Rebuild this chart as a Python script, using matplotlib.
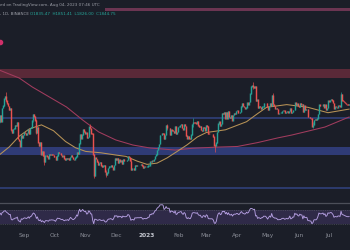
import numpy as np
import pandas as pd
import matplotlib
matplotlib.use("Agg")
import matplotlib.pyplot as plt
from matplotlib.lines import Line2D

# ---------------- data (ETH/USDT daily) ----------------
start_date = "2022-08-07"
first_open = 1690
closes_2022_08 = [1700, 1776, 1703, 1853, 1880, 1956, 1982, 1935, 1905, 1877, 1834, 1848, 1612,
                  1577, 1620, 1626, 1661, 1657, 1696, 1507, 1491, 1425, 1553, 1524, 1553]
closes_2022_09 = [1586, 1577, 1555, 1577, 1618, 1562, 1630, 1636, 1718, 1782, 1760, 1714, 1574,
                  1637, 1472, 1432, 1470, 1336, 1377, 1324, 1253, 1326, 1328, 1316, 1293, 1336,
                  1330, 1338, 1335, 1328]
closes_2022_10 = [1312, 1276, 1323, 1362, 1352, 1351, 1330, 1316, 1322, 1292, 1279, 1294, 1288,
                  1297, 1275, 1306, 1331, 1310, 1286, 1282, 1300, 1314, 1365, 1345, 1460, 1566,
                  1515, 1556, 1621, 1590, 1572]
closes_2022_11 = [1580, 1519, 1530, 1646, 1631, 1570, 1568, 1337, 1100, 1300, 1288, 1257, 1220,
                  1241, 1253, 1215, 1202, 1212, 1218, 1142, 1108, 1134, 1184, 1203, 1203, 1216,
                  1195, 1170, 1217, 1296]
closes_2022_12 = [1276, 1293, 1241, 1280, 1260, 1272, 1232, 1282, 1264, 1265, 1263, 1275, 1319,
                  1309, 1265, 1167, 1186, 1187, 1166, 1218, 1212, 1218, 1218, 1220, 1218, 1226,
                  1212, 1189, 1200, 1199, 1196]
closes_2023_01 = [1200, 1214, 1214, 1256, 1251, 1269, 1264, 1288, 1321, 1336, 1387, 1419, 1451,
                  1552, 1550, 1577, 1568, 1513, 1553, 1658, 1628, 1628, 1629, 1556, 1613, 1603,
                  1598, 1574, 1647, 1566, 1585]
closes_2023_02 = [1641, 1644, 1664, 1671, 1630, 1614, 1672, 1650, 1546, 1515, 1539, 1515, 1508,
                  1557, 1674, 1696, 1693, 1691, 1681, 1703, 1660, 1643, 1650, 1607, 1596, 1641,
                  1635, 1605]
closes_2023_03 = [1664, 1648, 1569, 1566, 1564, 1565, 1561, 1533, 1437, 1430, 1469, 1588, 1679,
                  1702, 1652, 1676, 1796, 1787, 1808, 1738, 1803, 1738, 1818, 1752, 1744, 1777,
                  1716, 1774, 1797, 1791, 1821]
closes_2023_04 = [1822, 1795, 1809, 1870, 1908, 1872, 1864, 1849, 1859, 1911, 1892, 1918, 2013,
                  2094, 2100, 2090, 2076, 2097, 1935, 1946, 1850, 1876, 1863, 1840, 1866, 1868,
                  1909, 1908, 1907, 1870]
closes_2023_05 = [1831, 1872, 1908, 1877, 1994, 1896, 1874, 1849, 1850, 1839, 1794, 1795, 1798,
                  1800, 1818, 1824, 1823, 1801, 1810, 1818, 1805, 1818, 1853, 1798, 1806, 1831,
                  1829, 1912, 1891, 1902, 1873]
closes_2023_06 = [1864, 1906, 1891, 1893, 1812, 1880, 1834, 1842, 1840, 1751, 1752, 1742, 1737,
                  1649, 1666, 1719, 1725, 1718, 1737, 1788, 1890, 1872, 1875, 1875, 1895, 1860,
                  1889, 1830, 1852, 1934]
closes_2023_07 = [1925, 1939, 1953, 1936, 1910, 1849, 1868, 1863, 1860, 1880, 1878, 1871, 2006,
                  1936, 1932, 1921, 1909, 1899, 1892, 1889, 1892]

# notable wick extremes
wick_dates = ["2022-08-14", "2022-08-19", "2022-09-10", "2022-09-13", "2022-09-21", "2022-11-05",
              "2022-11-09", "2022-11-21", "2022-12-16", "2023-01-21", "2023-02-16", "2023-03-10",
              "2023-04-16", "2023-05-06", "2023-06-15", "2023-07-13"]
wick_highs = [2030, 1850, 1790, 1730, 1380, 1680, 1340, 1160, 1300, 1680, 1745, 1450,
              2142, 2015, 1700, 2029]
wick_lows = [1920, 1600, 1700, 1560, 1220, 1620, 1073, 1081, 1160, 1610, 1640, 1368,
             2060, 1880, 1626, 1860]

# moving averages (read points)
ma50_dates = ["2022-08-07", "2022-08-17", "2022-08-27", "2022-09-06", "2022-09-18", "2022-09-30",
              "2022-10-12", "2022-10-22", "2022-11-01", "2022-11-16", "2022-12-01", "2022-12-11",
              "2022-12-22", "2023-01-01", "2023-01-11", "2023-01-21", "2023-01-31", "2023-02-10",
              "2023-02-20", "2023-03-01", "2023-03-20", "2023-04-10", "2023-04-21", "2023-04-30",
              "2023-05-20", "2023-06-10", "2023-06-30", "2023-07-21"]
ma50_vals = [1330, 1420, 1540, 1620, 1665, 1600, 1480, 1410, 1370, 1355, 1330, 1315,
             1263, 1226, 1240, 1298, 1370, 1444, 1530, 1580, 1610, 1700, 1790, 1860,
             1890, 1860, 1800, 1840]
ma200_dates = ["2022-08-07", "2022-08-27", "2022-09-09", "2022-09-26", "2022-10-13", "2022-10-29",
               "2022-11-14", "2022-12-01", "2022-12-18", "2023-01-04", "2023-01-29", "2023-02-15",
               "2023-03-12", "2023-04-01", "2023-04-21", "2023-05-11", "2023-05-25", "2023-06-10",
               "2023-06-27", "2023-07-21"]
ma200_vals = [2274, 2185, 2085, 1974, 1863, 1719, 1586, 1497, 1441, 1408, 1385, 1405,
              1418, 1425, 1468, 1520, 1552, 1595, 1641, 1752]

# horizontal zones (price low, price high)
zone_red = (2185, 2285)
zone_blue_line = (1728, 1752)
zone_blue_band = (1330, 1420)
zone_blue_bottom = (952, 974)
zone_pink_top = (2925, 2960)

# RSI seed (average gain / loss at start, read as RSI ~56)
rsi_seed_gain, rsi_seed_loss = 33.0, 26.0

month_labels = ["Sep", "Oct", "Nov", "Dec", "2023", "Feb", "Mar", "Apr", "May", "Jun", "Jul"]
month_dates = ["2022-09-01", "2022-10-01", "2022-11-01", "2022-12-01", "2023-01-01", "2023-02-01",
               "2023-03-01", "2023-04-01", "2023-05-01", "2023-06-01", "2023-07-01"]

header_line1 = "ed on TradingView.com, Aug 04, 2023 07:46 UTC"
header_sym = ", 1D, BINANCE"
header_ohlc = "O1835.47  H1851.41  L1826.00  C1844.75"

# ---------------- prepare ----------------
ref = pd.Timestamp("2023-01-01")


def to_day(ds):
    return float((pd.Timestamp(ds) - ref).days)


closes = np.array(closes_2022_08 + closes_2022_09 + closes_2022_10 + closes_2022_11 +
                  closes_2022_12 + closes_2023_01 + closes_2023_02 + closes_2023_03 +
                  closes_2023_04 + closes_2023_05 + closes_2023_06 + closes_2023_07, float)
dates = pd.date_range(start_date, periods=len(closes), freq="D")
days = (dates - ref).days.values.astype(float)
opens = np.concatenate([[first_open], closes[:-1]])
highs = np.maximum(opens, closes)
lows = np.minimum(opens, closes)
for d, h, l in zip(wick_dates, wick_highs, wick_lows):
    i = int(to_day(d) - days[0])
    highs[i] = max(highs[i], h)
    lows[i] = min(lows[i], l)

# Wilder RSI(14)
g, l = rsi_seed_gain, rsi_seed_loss
rsi = []
prev = first_open
for c in closes:
    dlt = c - prev
    g = (g * 13 + max(dlt, 0)) / 14
    l = (l * 13 + max(-dlt, 0)) / 14
    rsi.append(100 - 100 / (1 + g / l))
    prev = c
rsi = np.array(rsi)

# ---------------- draw ----------------
BG = "#1b1e28"
W, H = 350, 250
fig = plt.figure(figsize=(3.5, 2.5), dpi=100, facecolor=BG)

ax = fig.add_axes([0, 1 - 203 / H, 1, 203 / H], facecolor=BG)
ax.set_xlim(-146.2, 201.9)
ax.set_ylim(797, 3052)
ax.axis("off")

ax.axhspan(*zone_red, color="#5a2938", lw=0, zorder=1)
ax.axhspan(*zone_blue_line, color="#2c3a6c", lw=0, zorder=1)
ax.axhspan(*zone_blue_band, color="#2f3b76", lw=0, zorder=1)
ax.axhspan(*zone_blue_bottom, color="#2c3a6c", lw=0, zorder=1)
ax.axhspan(*zone_pink_top, xmin=105 / W, color="#6b3552", lw=0, zorder=1)

up = closes >= opens
col = np.where(up, "#26a69a", "#ef5350")
ax.vlines(days, lows, highs, colors=col, lw=0.5, zorder=3, alpha=0.9)
ax.vlines(days, np.minimum(opens, closes) - 3, np.maximum(opens, closes) + 3,
          colors=col, lw=1.05, zorder=3, alpha=0.95)

ax.plot([to_day(d) for d in ma200_dates], ma200_vals, color="#a23c5e", lw=0.75, zorder=2)
ax.plot([to_day(d) for d in ma50_dates], ma50_vals, color="#b89356", lw=0.75, zorder=2)

ax.scatter([-146.0], [2586], s=9, color="#d0306a", zorder=4, clip_on=False)

# separator
fig.add_artist(Line2D([0, 1], [1 - 203 / H] * 2, color="#4c4f59", lw=0.9))

# RSI panel
axr = fig.add_axes([0, 1 - 231 / H, 1, 27.5 / H], facecolor=BG)
axr.set_xlim(-146.2, 201.9)
axr.set_ylim(8, 89)
axr.axhspan(30, 70, color="#7e57c2", alpha=0.21, lw=0)
for lvl in (30, 70):
    axr.axhline(lvl, color="#5d5f6b", lw=0.4, ls=(0, (2, 2)))
axr.plot(days, rsi, color="#b49ee0", lw=0.65)
for s in axr.spines.values():
    s.set_visible(False)
axr.set_yticks([])
axr.set_xticks([to_day(d) for d in month_dates])
axr.set_xticklabels(month_labels)
axr.tick_params(axis="x", length=0, pad=1.2, labelsize=4.2, labelcolor="#8b8e98")
lab = axr.get_xticklabels()[4]
lab.set_fontweight("bold")
lab.set_color("#c4c7d0")

# header
fig.text(0.0, 1 - 5 / H, header_line1, fontsize=3.0, color="#9a9da6", va="center", ha="left")
fig.text(0.0, 1 - 14 / H, header_sym, fontsize=3.0, color="#9a9da6", va="center", ha="left")
fig.text(30 / W, 1 - 14 / H, header_ohlc, fontsize=3.0, color="#26a69a", va="center", ha="left")

fig.savefig("out.png", dpi=100, facecolor=BG)
